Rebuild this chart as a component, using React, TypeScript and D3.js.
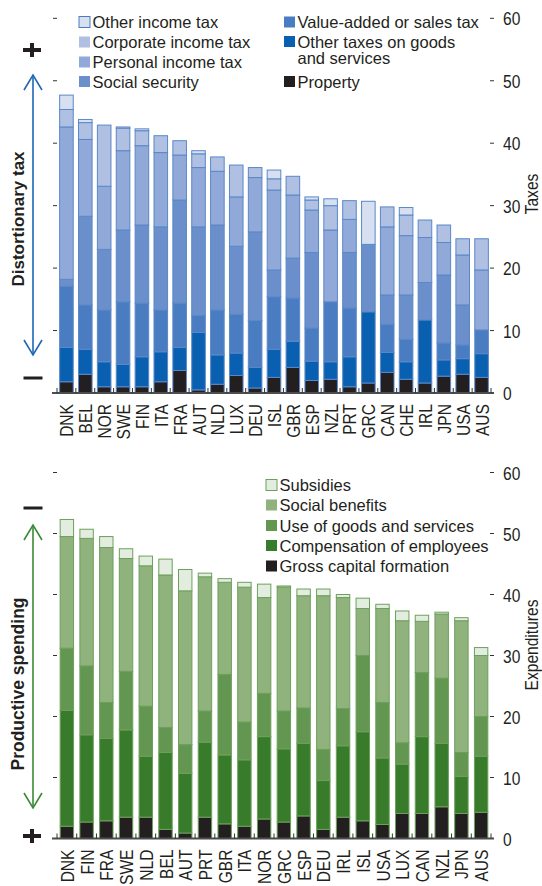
import React from 'react';
import * as d3 from 'd3';

// ---- taxes panel ----
const taxCountries = ['DNK', 'BEL', 'NOR', 'SWE', 'FIN', 'ITA', 'FRA', 'AUT', 'NLD', 'LUX', 'DEU', 'ISL',
  'GBR', 'ESP', 'NZL', 'PRT', 'GRC', 'CAN', 'CHE', 'IRL', 'JPN', 'USA', 'AUS'];
const property = [1.8, 3.0, 1.0, 1.0, 1.0, 1.8, 3.6, 0.5, 1.4, 2.8, 0.8, 2.5, 4.1, 2.0, 2.2, 1.0, 1.6, 3.3, 2.2, 1.6, 2.7, 3.0, 2.5];
const otherGoodsTax = [5.5, 4.0, 4.0, 3.6, 4.8, 4.8, 3.7, 9.2, 4.7, 3.6, 3.3, 4.5, 4.2, 3.1, 2.8, 4.8, 11.4, 3.2, 2.8, 10.1, 2.6, 2.5, 3.8];
const vatTax = [9.8, 7.1, 8.3, 10.0, 8.6, 6.7, 7.1, 2.7, 7.2, 6.2, 7.5, 8.4, 6.9, 5.3, 9.6, 7.8, 0, 4.5, 3.6, 0, 2.7, 2.2, 3.8];
const socialSecurity = [1.1, 14.2, 9.7, 11.5, 12.5, 13.3, 16.5, 14.2, 13.6, 10.9, 14.2, 4.3, 6.4, 12.1, 0, 8.9, 10.8, 4.7, 7.1, 6.0, 10.9, 6.4, 0];
const personalIncomeTax = [24.4, 12.3, 10.1, 12.7, 12.7, 11.9, 7.2, 9.5, 8.6, 7.9, 8.7, 12.8, 10.1, 6.8, 11.5, 5.3, 0, 10.9, 9.5, 7.2, 5.2, 8.0, 9.6];
const corporateIncomeTax = [2.8, 2.7, 9.8, 3.6, 2.4, 2.7, 2.3, 2.2, 2.3, 5.1, 1.6, 1.8, 3.0, 1.6, 3.9, 3.0, 0, 3.2, 3.3, 2.8, 2.8, 2.6, 5.0];
const otherIncomeTax = [2.3, 0.5, 0, 0.2, 0.3, 0, 0, 0.5, 0, 0, 0, 1.4, 0, 0.5, 1.1, 0, 6.9, 0, 1.2, 0, 0, 0, 0];

// ---- expenditures panel ----
const spendCountries = ['DNK', 'FIN', 'FRA', 'SWE', 'NLD', 'BEL', 'AUT', 'PRT', 'GBR', 'ITA', 'NOR', 'GRC',
  'ESP', 'DEU', 'IRL', 'ISL', 'USA', 'LUX', 'CAN', 'NZL', 'JPN', 'AUS'];
const grossCapital = [2.0, 2.7, 2.9, 3.5, 3.5, 1.5, 0.9, 3.5, 2.4, 2.0, 3.2, 2.7, 3.7, 1.5, 3.5, 2.9, 2.3, 4.1, 4.1, 5.2, 4.1, 4.3];
const compensation = [19.0, 14.3, 13.5, 14.3, 10.0, 12.6, 9.8, 12.3, 11.3, 10.9, 13.5, 12.0, 11.9, 8.0, 11.7, 14.6, 10.9, 8.1, 12.6, 10.4, 6.1, 9.2];
const goodsServices = [10.2, 11.3, 5.9, 9.6, 8.2, 4.1, 4.7, 5.1, 13.2, 6.2, 7.1, 6.2, 5.8, 5.1, 6.1, 12.5, 9.1, 3.5, 10.5, 10.7, 3.9, 6.5];
const socialBenefits = [18.3, 20.9, 25.4, 18.5, 23.0, 25.0, 25.2, 22.0, 15.1, 22.1, 15.7, 20.3, 18.4, 25.2, 18.2, 7.7, 15.4, 20.0, 8.4, 10.5, 21.6, 10.0];
const subsidies = [2.8, 1.5, 1.8, 1.6, 1.6, 2.6, 3.5, 0.6, 0.6, 0.8, 2.2, 0.2, 1.1, 1.1, 0.5, 1.7, 0.7, 1.6, 1.0, 0.3, 0.5, 1.3];

const yTicks = [0, 10, 20, 30, 40, 50, 60];

const FONT = "'Liberation Sans', Arial, sans-serif";
const INK = '#231f20';
const NARROW = 0.82;

const taxSeries = [
  { key: 'property', label: 'Property', values: property, color: INK },
  { key: 'otherGoods', label: 'Other taxes on goods', values: otherGoodsTax, color: '#0a60b0' },
  { key: 'vat', label: 'Value-added or sales tax', values: vatTax, color: '#4a7cc2' },
  { key: 'ss', label: 'Social security', values: socialSecurity, color: '#6b8fcb' },
  { key: 'pit', label: 'Personal income tax', values: personalIncomeTax, color: '#91a9d9' },
  { key: 'cit', label: 'Corporate income tax', values: corporateIncomeTax, color: '#afc0e2' },
  { key: 'oit', label: 'Other income tax', values: otherIncomeTax, color: '#d6e0f1' },
];

const spendSeries = [
  { key: 'gcf', label: 'Gross capital formation', values: grossCapital, color: INK },
  { key: 'comp', label: 'Compensation of employees', values: compensation, color: '#377b2b' },
  { key: 'use', label: 'Use of goods and services', values: goodsServices, color: '#639751' },
  { key: 'sb', label: 'Social benefits', values: socialBenefits, color: '#90b27d' },
  { key: 'subs', label: 'Subsidies', values: subsidies, color: '#e2ede0' },
];

type Series = { key: string; label: string; values: number[]; color: string };

// condensed-looking text: squeeze along the reading direction
function NText({ x, y, rotate = 0, anchor = 'start', size = 19, bold = false, children }: any) {
  return (
    <text transform={`translate(${x},${y}) rotate(${rotate}) scale(${NARROW},1)`} textAnchor={anchor}
      fontFamily={FONT} fontSize={size} fontWeight={bold ? 'bold' : 'normal'} fill={INK}>{children}</text>
  );
}

function Panel({ categories, series, y0, y60, pad, stroke }: {
  categories: string[]; series: Series[]; y0: number; y60: number; pad: number; stroke: string;
}) {
  const x = d3.scaleBand<string>().domain(categories).range([57, 491]).paddingInner(pad).paddingOuter(pad / 2);
  const y = d3.scaleLinear().domain([0, 60]).range([y0, y60]);
  const rows = categories.map((c, i) => {
    const r: any = { name: c };
    series.forEach(s => { r[s.key] = s.values[i]; });
    return r;
  });
  const stacked = d3.stack<any>().keys(series.map(s => s.key))(rows);
  const step = x.step();
  const bounds = d3.range(categories.length + 1).map(i => 57 + i * step);

  return (
    <g>
      {yTicks.map(t => (
        <g key={t}>
          <line x1={53} x2={57} y1={y(t)} y2={y(t)} stroke="#333" strokeWidth={1} />
          <line x1={490} x2={494} y1={y(t)} y2={y(t)} stroke="#333" strokeWidth={1} />
          <NText x={503} y={y(t) + 7}>{t}</NText>
        </g>
      ))}
      {stacked.map((layer, li) => (
        <g key={layer.key} fill={series[li].color}>
          {layer.map((d, i) => (d[1] - d[0] > 0 ? (
            <rect key={i} x={x(categories[i])} width={x.bandwidth()} y={y(d[1])}
              height={y(d[0]) - y(d[1])} stroke={stroke} strokeWidth={1} />
          ) : null))}
        </g>
      ))}
      <line x1={52} x2={494} y1={y0} y2={y0} stroke="#4d4d4d" strokeWidth={2} />
      {bounds.map((b, i) => (
        <line key={i} x1={b} x2={b} y1={y0} y2={y0 - 5} stroke="#333" strokeWidth={1} />
      ))}
      {categories.map(c => (
        <NText key={c} x={(x(c) as number) + x.bandwidth() / 2 + 7} y={y0 + 11} rotate={-90} anchor="end">{c}</NText>
      ))}
    </g>
  );
}

function Plus({ cx, cy }: { cx: number; cy: number }) {
  return (
    <g fill={INK}>
      <rect x={cx - 9} y={cy - 2} width={18} height={4} />
      <rect x={cx - 2} y={cy - 7} width={4} height={14} />
    </g>
  );
}

function Minus({ cx, cy }: { cx: number; cy: number }) {
  return <rect x={cx - 9.5} y={cy - 1.5} width={19} height={3} fill={INK} />;
}

function Arrow({ x, top, bottom, color }: { x: number; top: number; bottom: number; color: string }) {
  return (
    <g stroke={color} strokeWidth={1.6} fill="none">
      <line x1={x} x2={x} y1={top} y2={bottom} />
      <polyline points={`${x - 9},${top + 15} ${x},${top} ${x + 9},${top + 15}`} />
      <polyline points={`${x - 9},${bottom - 15} ${x},${bottom} ${x + 9},${bottom - 15}`} />
    </g>
  );
}

function Legend({ items, x, rows, outline }: {
  items: { label: string[]; color: string }[]; x: number; rows: number[]; outline?: string;
}) {
  return (
    <g fontFamily={FONT} fontSize={16.5} fill={INK}>
      {items.map((it, i) => (
        <g key={i}>
          <rect x={x} y={rows[i] - 11.5} width={11} height={11} fill={it.color}
            stroke={i === 0 && outline ? outline : 'none'} strokeWidth={1} />
          {it.label.map((l, j) => (
            <text key={j} x={x + 13.5} y={rows[i] + j * 16}>{l}</text>
          ))}
        </g>
      ))}
    </g>
  );
}

export default function App() {
  const tax = (k: string) => taxSeries.find(s => s.key === k)!;
  const sp = (k: string) => spendSeries.find(s => s.key === k)!;
  return (
    <svg width={542} height={886} style={{ position: 'absolute', left: 0, top: 0 }}>
      <rect width={542} height={886} fill="#fff" />

      {/* taxes */}
      <Panel categories={taxCountries} series={taxSeries} y0={393} y60={18.3} pad={0.28} stroke="#5a88c8" />
      <Legend x={79} rows={[28, 48, 68, 87.5]} outline="#4a7cc2"
        items={['oit', 'cit', 'pit', 'ss'].map(k => ({ label: [tax(k).label], color: tax(k).color }))} />
      <Legend x={284} rows={[28, 47.5, 87.5]}
        items={[
          { label: [tax('vat').label], color: tax('vat').color },
          { label: [tax('otherGoods').label, 'and services'], color: tax('otherGoods').color },
          { label: [tax('property').label], color: INK },
        ]} />
      <Plus cx={32} cy={50} />
      <Minus cx={33} cy={378} />
      <Arrow x={33} top={75} bottom={355} color="#1f68b3" />
      <text transform="translate(24,219) rotate(-90)" textAnchor="middle" fontFamily={FONT}
        fontWeight="bold" fontSize={17} fill={INK}>Distortionary tax</text>
      <NText x={538} y={194} rotate={-90} anchor="middle">Taxes</NText>

      {/* expenditures */}
      <Panel categories={spendCountries} series={spendSeries} y0={838.5} y60={472.5} pad={0.32} stroke="#6da05c" />
      <Legend x={266} rows={[491, 511, 531.5, 551.5, 572]} outline="#6da05c"
        items={['subs', 'sb', 'use', 'comp', 'gcf'].map(k => ({ label: [sp(k).label], color: sp(k).color }))} />
      <Minus cx={33} cy={508} />
      <Plus cx={32} cy={836} />
      <Arrow x={33} top={525} bottom={808} color="#3a8a35" />
      <text transform="translate(24,684) rotate(-90)" textAnchor="middle" fontFamily={FONT}
        fontWeight="bold" fontSize={17.5} fill={INK}>Productive spending</text>
      <NText x={538} y={645} rotate={-90} anchor="middle">Expenditures</NText>
    </svg>
  );
}
